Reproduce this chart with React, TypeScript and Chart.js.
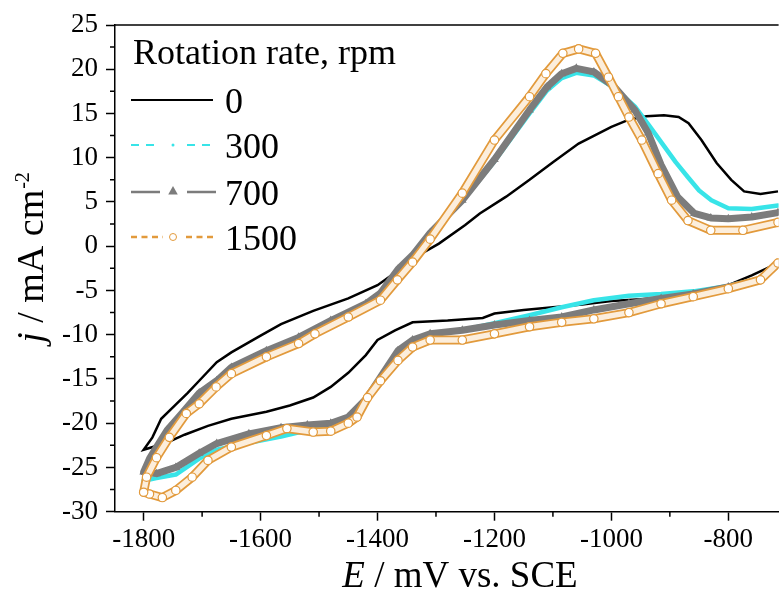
import React, { useEffect, useRef } from 'react';
import { Chart, registerables } from 'chart.js';

Chart.register(...registerables);

// ---------- axis ticks ----------
const E_TICKS = [-1800, -1600, -1400, -1200, -1000, -800];
const E_MINOR = [-1700, -1500, -1300, -1100, -900];
const J_TICKS = [-30, -25, -20, -15, -10, -5, 0, 5, 10, 15, 20, 25];
const J_MINOR = [-27.5, -22.5, -17.5, -12.5, -7.5, -2.5, 2.5, 7.5, 12.5, 17.5, 22.5];

// ---------- legend ----------
const LEGEND_TITLE = 'Rotation rate, rpm';
const SERIES_LABELS = ['0', '300', '700', '1500'];

// ---------- data: E (mV vs. SCE), j (mA cm^-2); cathodic scan then anodic scan ----------
const e0 = [
  -715, -760, -800, -850, -900, -950, -1000, -1050, -1100, -1150, -1200, -1220, -1280, -1340,
  -1370, -1400, -1420, -1450, -1480, -1510, -1550, -1590, -1650, -1690, -1730, -1760, -1790, -1800,
  -1785, -1770, -1750, -1725, -1705, -1675, -1650, -1600, -1565, -1510, -1450, -1400, -1370, -1337,
  -1295, -1250, -1225, -1180, -1140, -1100, -1056, -1000, -970, -940, -910, -885, -868, -846,
  -820, -795, -773, -745, -715,
];
const j0 = [
  -1.9, -3.3, -4.4, -5.2, -5.7, -6.0, -6.2, -6.6, -6.9, -7.2, -7.6, -8.1, -8.4, -8.6,
  -9.5, -10.6, -12.3, -14.3, -15.9, -17.1, -18.0, -18.7, -19.5, -20.3, -21.3, -22.2, -22.8, -23.0,
  -21.6, -19.5, -18.2, -16.6, -15.2, -13.1, -12.0, -10.1, -8.8, -7.3, -5.9, -4.4, -3.0, -1.3,
  0.3, 2.4, 3.7, 5.6, 7.5, 9.5, 11.6, 13.5, 14.3, 14.7, 14.8, 14.6, 13.9, 12.0,
  9.4, 7.5, 6.2, 5.9, 6.2,
];

const e300 = [
  -715, -745, -800, -860, -915, -970, -1030, -1085, -1140, -1200, -1255, -1310, -1340, -1365,
  -1395, -1420, -1450, -1480, -1520, -1565, -1620, -1675, -1705, -1745, -1778, -1800,
  -1790, -1778, -1760, -1735, -1705, -1675, -1650, -1590, -1535, -1480, -1420, -1395, -1365, -1340,
  -1310, -1255, -1200, -1140, -1110, -1085, -1060, -1030, -995, -960, -935, -913, -890, -869,
  -850, -829, -800, -760, -715,
];
const j300 = [
  -2.0, -3.6, -4.5, -5.1, -5.4, -5.6, -6.1, -6.9, -7.8, -8.7, -9.5, -10.0, -10.8, -12.0,
  -15.0, -17.5, -19.5, -20.3, -20.8, -21.5, -22.2, -23.0, -24.0, -25.8, -26.2, -26.5,
  -24.3, -23.0, -21.1, -19.2, -16.9, -15.5, -14.0, -12.0, -10.5, -8.6, -6.6, -5.4, -3.0, -1.0,
  1.5, 5.1, 9.6, 15.0, 17.6, 19.0, 19.6, 19.3, 17.9, 15.8, 13.6, 11.6, 9.5, 7.8,
  6.3, 5.2, 4.3, 4.2, 4.6,
];

const e700 = [
  -715, -745, -800, -860, -915, -970, -1030, -1085, -1140, -1200, -1255, -1310, -1340, -1365,
  -1395, -1420, -1450, -1480, -1520, -1565, -1620, -1675, -1705, -1745, -1778, -1800,
  -1790, -1778, -1760, -1735, -1705, -1675, -1650, -1590, -1535, -1480, -1420, -1395, -1365, -1340,
  -1310, -1255, -1200, -1140, -1110, -1085, -1060, -1030, -995, -960, -937, -915, -887, -858,
  -830, -800, -760, -715,
];
const j700 = [
  -2.0, -3.8, -4.6, -5.4, -5.9, -6.5, -7.2, -8.0, -8.4, -8.9, -9.5, -9.9, -10.6, -11.8,
  -14.8, -17.3, -19.3, -20.0, -20.2, -20.5, -21.2, -22.3, -23.4, -25.0, -25.7, -25.5,
  -24.0, -22.7, -20.8, -18.9, -16.6, -15.2, -13.7, -11.8, -10.3, -8.4, -6.5, -5.3, -2.6, -1.0,
  1.5, 5.2, 9.8, 15.4, 18.0, 19.5, 20.1, 19.7, 18.0, 15.4, 12.8, 9.2, 5.6, 3.7,
  3.2, 3.1, 3.3, 3.8,
];

const e1500 = [
  -715, -745, -800, -860, -915, -970, -1030, -1085, -1140, -1200, -1255, -1310, -1340, -1365,
  -1395, -1417, -1435, -1450, -1480, -1510, -1555, -1590, -1650, -1690, -1717, -1745, -1768, -1790, -1800,
  -1795, -1778, -1756, -1727, -1705, -1676, -1650, -1590, -1535, -1507, -1450, -1395, -1366, -1340,
  -1310, -1255, -1200, -1140, -1112, -1083, -1056, -1027, -1005, -988, -970, -948, -920, -897,
  -869, -830, -775, -715,
];
const j1500 = [
  -1.9, -3.8, -4.8, -5.7, -6.5, -7.5, -8.2, -8.6, -9.1, -9.9, -10.6, -10.6, -11.4, -12.9,
  -15.2, -17.1, -19.3, -20.0, -20.9, -21.0, -20.6, -21.4, -22.7, -24.2, -26.1, -27.6, -28.4, -28.0, -27.8,
  -26.1, -23.9, -21.6, -18.9, -17.8, -15.9, -14.4, -12.5, -11.0, -9.9, -8.0, -6.1, -3.8, -1.8,
  0.8, 6.0, 12.0, 16.9, 19.5, 21.8, 22.3, 21.8, 19.1, 16.9, 14.6, 12.0, 8.2, 5.2,
  2.9, 1.8, 1.8, 2.7,
];

const COLORS = {
  black: '#000000',
  cyan: '#38E4E8',
  gray: '#7C7C7C',
  orange: '#E29A3C',
  orangeCore: '#FCEEDC',
};

const FONT = 'Liberation Serif';

const pts = (xs: number[], ys: number[]) => xs.map((x, i) => ({ x, y: ys[i] }));

function drawTriangle(ctx: CanvasRenderingContext2D, x: number, y: number, r: number) {
  ctx.beginPath();
  ctx.moveTo(x, y - r);
  ctx.lineTo(x + r * 0.95, y + r * 0.7);
  ctx.lineTo(x - r * 0.95, y + r * 0.7);
  ctx.closePath();
  ctx.fill();
}

const decorPlugin = {
  id: 'decor',
  afterDraw(chart: any) {
    const { ctx, chartArea } = chart;
    const xs = chart.scales.x;
    const ys = chart.scales.y;
    ctx.save();
    // top frame line
    ctx.strokeStyle = '#000';
    ctx.lineWidth = 1.5;
    ctx.beginPath();
    ctx.moveTo(chartArea.left, chartArea.top);
    ctx.lineTo(chartArea.right, chartArea.top);
    ctx.stroke();
    // minor ticks
    ctx.lineWidth = 1.5;
    ctx.beginPath();
    for (const v of E_MINOR) {
      const px = xs.getPixelForValue(v);
      ctx.moveTo(px, chartArea.bottom);
      ctx.lineTo(px, chartArea.bottom + 5);
    }
    for (const v of J_MINOR) {
      const py = ys.getPixelForValue(v);
      ctx.moveTo(chartArea.left, py);
      ctx.lineTo(chartArea.left - 5, py);
    }
    ctx.stroke();

    // x-axis title: E / mV vs. SCE
    ctx.fillStyle = '#000';
    ctx.textBaseline = 'alphabetic';
    ctx.textAlign = 'left';
    const xTitleItalic = 'E';
    const xTitleRest = ' / mV vs. SCE';
    ctx.font = `italic 37px "${FONT}"`;
    const w1 = ctx.measureText(xTitleItalic).width;
    ctx.font = `37px "${FONT}"`;
    const w2 = ctx.measureText(xTitleRest).width;
    const cx = 460;
    const xStart = cx - (w1 + w2) / 2;
    const xBase = 587;
    ctx.font = `italic 37px "${FONT}"`;
    ctx.fillText(xTitleItalic, xStart, xBase);
    ctx.font = `37px "${FONT}"`;
    ctx.fillText(xTitleRest, xStart + w1, xBase);

    // y-axis title: j / mA cm^-2
    ctx.save();
    ctx.translate(43, 258);
    ctx.rotate(-Math.PI / 2);
    const yA = 'j';
    const yB = ' / mA cm';
    const yC = '-2';
    ctx.font = `italic 38px "${FONT}"`;
    const a = ctx.measureText(yA).width;
    ctx.font = `38px "${FONT}"`;
    const b = ctx.measureText(yB).width;
    ctx.font = `20px "${FONT}"`;
    const c = ctx.measureText(yC).width;
    let sx = -(a + b + c) / 2;
    ctx.font = `italic 38px "${FONT}"`;
    ctx.fillText(yA, sx, 0);
    sx += a;
    ctx.font = `38px "${FONT}"`;
    ctx.fillText(yB, sx, 0);
    sx += b;
    ctx.font = `20px "${FONT}"`;
    ctx.fillText(yC, sx + 1, -14);
    ctx.restore();

    // legend
    const lx0 = 131;
    const lx1 = 213;
    const tx = 225;
    ctx.font = `36px "${FONT}"`;
    ctx.fillStyle = '#000';
    ctx.fillText(LEGEND_TITLE, 133, 64);
    const rows = [100, 145, 192, 237];
    const mid = (lx0 + lx1) / 2 + 1;
    SERIES_LABELS.forEach((label, i) => {
      const y = rows[i];
      ctx.save();
      if (i === 0) {
        ctx.strokeStyle = COLORS.black;
        ctx.lineWidth = 2;
        ctx.beginPath();
        ctx.moveTo(lx0, y);
        ctx.lineTo(lx1, y);
        ctx.stroke();
      } else if (i === 1) {
        ctx.strokeStyle = COLORS.cyan;
        ctx.lineWidth = 2;
        ctx.setLineDash([8, 7]);
        ctx.beginPath();
        ctx.moveTo(lx0, y);
        ctx.lineTo(mid - 12, y);
        ctx.moveTo(mid + 14, y);
        ctx.lineTo(lx1 + 2, y);
        ctx.stroke();
        ctx.setLineDash([]);
        ctx.fillStyle = COLORS.cyan;
        ctx.beginPath();
        ctx.arc(mid, y, 1.5, 0, Math.PI * 2);
        ctx.fill();
      } else if (i === 2) {
        ctx.strokeStyle = COLORS.gray;
        ctx.lineWidth = 2.5;
        ctx.beginPath();
        ctx.moveTo(lx0, y);
        ctx.lineTo(mid - 13, y);
        ctx.moveTo(mid + 14, y);
        ctx.lineTo(lx1 + 3, y);
        ctx.stroke();
        ctx.fillStyle = COLORS.gray;
        drawTriangle(ctx, mid, y - 1, 5);
      } else {
        ctx.strokeStyle = COLORS.orange;
        ctx.lineWidth = 2.5;
        ctx.setLineDash([6, 4.5]);
        ctx.beginPath();
        ctx.moveTo(lx0, y);
        ctx.lineTo(mid - 10, y);
        ctx.moveTo(mid + 13, y);
        ctx.lineTo(lx1 + 3, y);
        ctx.stroke();
        ctx.setLineDash([]);
        ctx.lineWidth = 1;
        ctx.fillStyle = '#fff';
        ctx.beginPath();
        ctx.arc(mid, y, 3.5, 0, Math.PI * 2);
        ctx.fill();
        ctx.stroke();
      }
      ctx.restore();
      ctx.fillStyle = '#000';
      ctx.font = `36px "${FONT}"`;
      ctx.fillText(label, tx, y + 13);
    });
    ctx.restore();
  },
};

export default function App() {
  const ref = useRef<HTMLCanvasElement | null>(null);

  useEffect(() => {
    document.body.style.margin = '0';
    const canvas = ref.current;
    if (!canvas) return;
    Chart.defaults.font.family = FONT;
    const chart = new Chart(canvas, {
      type: 'scatter',
      data: {
        datasets: [
          {
            label: SERIES_LABELS[0],
            data: pts(e0, j0),
            showLine: true,
            borderColor: COLORS.black,
            borderWidth: 2.5,
            pointRadius: 0,
            order: 5,
          },
          {
            label: SERIES_LABELS[1],
            data: pts(e300, j300),
            showLine: true,
            borderColor: COLORS.cyan,
            borderWidth: 4.5,
            borderJoinStyle: 'round',
            borderCapStyle: 'round',
            pointRadius: 0,
            order: 4,
          },
          {
            label: SERIES_LABELS[2],
            data: pts(e700, j700),
            showLine: true,
            borderColor: COLORS.gray,
            borderWidth: 7,
            borderJoinStyle: 'round',
            borderCapStyle: 'round',
            pointStyle: 'triangle',
            pointRadius: 5,
            pointBackgroundColor: COLORS.gray,
            pointBorderColor: COLORS.gray,
            pointBorderWidth: 0,
            order: 3,
          },
          {
            label: SERIES_LABELS[3] + ' outline',
            data: pts(e1500, j1500),
            showLine: true,
            borderColor: COLORS.orange,
            borderWidth: 9,
            borderJoinStyle: 'round',
            borderCapStyle: 'round',
            pointRadius: 0,
            order: 2,
          },
          {
            label: SERIES_LABELS[3],
            data: pts(e1500, j1500),
            showLine: true,
            borderColor: COLORS.orangeCore,
            borderWidth: 5.5,
            borderJoinStyle: 'round',
            borderCapStyle: 'round',
            pointStyle: 'circle',
            pointRadius: 4.2,
            pointBackgroundColor: '#ffffff',
            pointBorderColor: COLORS.orange,
            pointBorderWidth: 1.2,
            order: 1,
          },
        ],
      },
      options: {
        animation: false,
        responsive: false,
        events: [],
        layout: { padding: { top: 25, right: 0, left: 0, bottom: 0 } },
        plugins: {
          legend: { display: false },
          tooltip: { enabled: false },
          title: { display: false },
        },
        scales: {
          x: {
            type: 'linear',
            min: -1849,
            max: -714,
            afterBuildTicks: (s: any) => {
              s.ticks = E_TICKS.map((v) => ({ value: v }));
            },
            afterFit: (s: any) => {
              s.height = 88.3;
            },
            ticks: {
              color: '#000',
              font: { family: FONT, size: 27 },
              padding: 3,
              maxRotation: 0,
              autoSkip: false,
              callback: (v: any) => String(v),
            },
            grid: {
              display: true,
              drawOnChartArea: false,
              drawTicks: true,
              tickLength: 9,
              tickColor: '#000',
              tickWidth: 1.5,
            },
            border: { display: true, color: '#000', width: 1.5 },
          },
          y: {
            type: 'linear',
            min: -30,
            max: 25,
            afterBuildTicks: (s: any) => {
              s.ticks = J_TICKS.map((v) => ({ value: v }));
            },
            afterFit: (s: any) => {
              s.width = 115;
            },
            ticks: {
              color: '#000',
              font: { family: FONT, size: 27 },
              padding: 8,
              autoSkip: false,
              callback: (v: any) => String(v),
            },
            grid: {
              display: true,
              drawOnChartArea: false,
              drawTicks: true,
              tickLength: 9,
              tickColor: '#000',
              tickWidth: 1.5,
            },
            border: { display: true, color: '#000', width: 1.5 },
          },
        },
      },
      plugins: [decorPlugin],
    });
    return () => {
      chart.destroy();
    };
  }, []);

  return (
    <div style={{ width: 784, height: 600, background: '#fff' }}>
      <canvas ref={ref} width={784} height={600} style={{ display: 'block' }} />
    </div>
  );
}
